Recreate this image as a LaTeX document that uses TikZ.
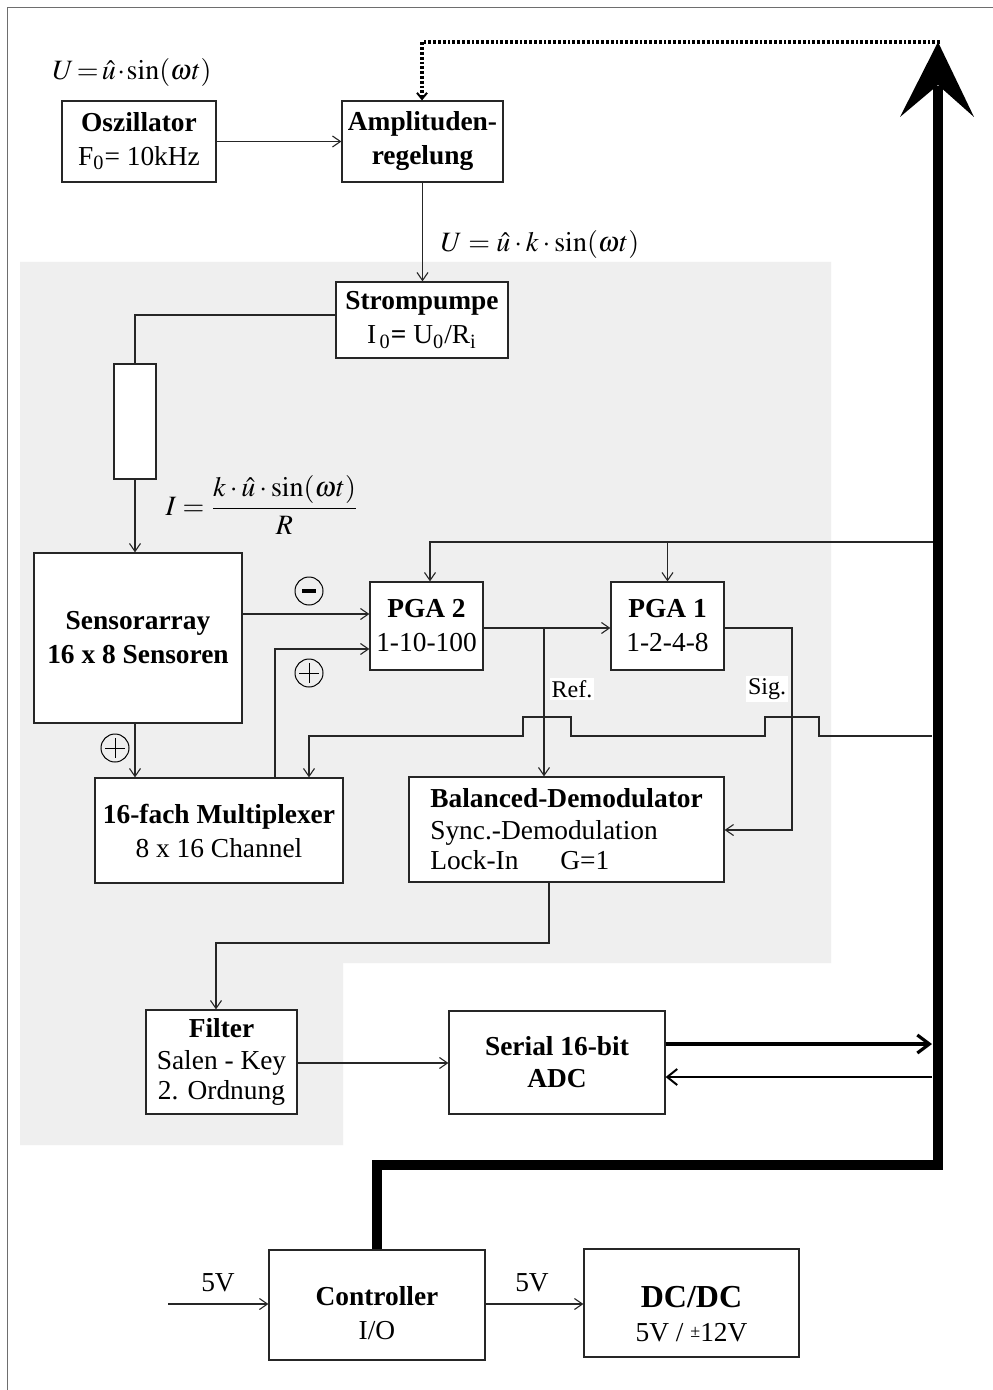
\documentclass[tikz,border=0pt]{standalone}
\usepackage{mathptmx}
\usepackage[no-math]{fontspec}
\setmainfont{Liberation Serif}
\usetikzlibrary{arrows.meta,calc}
\definecolor{bggray}{RGB}{239,239,239}
\definecolor{framegray}{RGB}{110,110,110}
\tikzset{
  box/.style={draw=black!85, line width=0.6pt, fill=white, inner sep=0pt, align=center,
              font=\fontsize{13.7}{17}\selectfont},
  txt/.style={inner sep=0pt, align=center, font=\fontsize{13.7}{17}\selectfont},
  wire/.style={line width=0.55pt, draw=black!85},
  arr/.style={wire,->},
  sgn/.style={circle, draw, line width=0.5pt, minimum size=14pt, inner sep=0pt},
  tag/.style={fill=white, inner sep=1pt, font=\fontsize{12}{12}\selectfont},
  fml/.style={inner sep=0pt, font=\fontsize{14}{16}\selectfont},
  dotline/.style={line width=1.6pt, dash pattern=on 1.4pt off 1pt}
}
\begin{document}
\begin{tikzpicture}[x=0.5pt,y=-0.5pt,
  >={Straight Barb[length=4pt,width=5.5pt]}]

\useasboundingbox (0,0) rectangle (992,1390);
\fill[white] (0,0) rectangle (992,1390);
% grey region
\fill[bggray] (20,262) -- (831,262) -- (831,963) -- (343,963) -- (343,1145) -- (20,1145) -- cycle;
% frame
\draw[framegray, line width=0.75pt] (7.5,1400) -- (7.5,7.5) -- (1000,7.5);

% boxes
\node[box,minimum width=77pt,minimum height=40.5pt] (osc) at (139,141.5) {\textbf{Oszillator}\\F\textsubscript{0}= 10kHz};
\node[box,minimum width=80.5pt,minimum height=40.5pt] (amp) at (422.5,141.5) {\textbf{Amplituden-}\\\textbf{regelung}};
\node[box,minimum width=86pt,minimum height=38pt] (strom) at (422,320) {\textbf{Strompumpe}\\I\textsubscript{\,0}\textbf{=} U\textsubscript{0}/R\textsubscript{i}};
\node[box,minimum width=21pt,minimum height=57.5pt] (res) at (135,421.5) {};
\node[box,minimum width=104pt,minimum height=85pt] (sensor) at (138,638) {\textbf{Sensorarray}\\\textbf{16 x 8 Sensoren}};
\node[box,minimum width=56.5pt,minimum height=44pt] (pga2) at (426.5,626) {\textbf{PGA 2}\\1-10-100};
\node[box,minimum width=56.5pt,minimum height=44pt] (pga1) at (667.5,626) {\textbf{PGA 1}\\1-2-4-8};
\node[box,minimum width=124pt,minimum height=52.5pt] (mux) at (219,830.5) {\textbf{16-fach Multiplexer}\\8 x 16 Channel};
\node[box,minimum width=157.5pt,minimum height=52.5pt,align=left] (bal) at (566.5,829.5) {\textbf{Balanced-Demodulator}\\[-1pt]Sync.-Demodulation\\[-2pt]\makebox[65pt][l]{Lock-In}G=1};
\node[box,minimum width=75.5pt,minimum height=52pt] (filter) at (221.5,1062) {\textbf{Filter}\\[-1pt]Salen - Key\\[-2pt]2. Ordnung};
\node[box,minimum width=108pt,minimum height=51.5pt] (adc) at (557,1062.5) {\textbf{Serial 16-bit}\\[-1pt]\textbf{ADC}};
\node[box,minimum width=108pt,minimum height=55pt] (ctrl) at (377,1305) {};
\node[txt] (ctrlT) at (377,1313) {\textbf{Controller}\\I/O};
\node[box,minimum width=107.5pt,minimum height=54pt] (dcdc) at (691.5,1303) {};
\node[txt] (dcdcT) at (691.5,1314) {{\fontsize{16}{17}\selectfont\textbf{DC/DC}}\\5V / \raisebox{0.35ex}{\fontsize{9}{9}\selectfont ±}12V};

% formulas
\node[fml] (f1) at (132,73) {$\thickmuskip=2mu\medmuskip=1mu U=\hat{u}\cdot\sin(\omega t)$};
\node[fml] (f2) at (540,245) {$U=\hat{u}\cdot k\cdot\sin(\omega t)$};
\node[fml] (f3) at (262,505) {$I=\displaystyle\frac{k\cdot\hat{u}\cdot\sin(\omega t)}{R}$};

% sign circles
\node[sgn] (m1) at (309,591) {};
\draw[line width=2pt] ($(m1)+(-7,0)$) -- ($(m1)+(7,0)$);
\node[sgn] (p1) at (309,673) {};
\draw[line width=0.5pt] ($(p1)+(-10,0)$) -- ($(p1)+(10,0)$) ($(p1)+(0,-10)$) -- ($(p1)+(0,10)$);
\node[sgn] (p2) at (115,748) {};
\draw[line width=0.5pt] ($(p2)+(-10,0)$) -- ($(p2)+(10,0)$) ($(p2)+(0,-10)$) -- ($(p2)+(0,10)$);

% coordinates for free ends
\coordinate (dotS) at (940,42);
\coordinate (busA) at (935,542);
\coordinate (busB) at (932,736);
\coordinate (busC) at (932,1044);
\coordinate (busD) at (932,1077);
\coordinate (in5) at (168,1304);
\coordinate (refsplit) at (544,628);
\coordinate (sigc) at (792,628);

% connectors
\draw[arr] (osc.east) -- (amp.west);
\draw[arr] (amp.south) -- (amp.south |- strom.north);
\draw[wire] (strom.west |- 0,315) -| (res.north);
\draw[arr] (res.south) -- (res.south |- sensor.north);
\draw[arr] (sensor.east |- 0,614) -- (pga2.west |- 0,614);
\draw[arr] (mux.north -| 275,0) |- (pga2.west |- 0,649);
\draw[arr] (sensor.south -| 135,0) -- (mux.north -| 135,0);
\draw[arr] (busA) -| (pga2.north -| 430,0);
\draw[arr] (pga1.north |- busA) -- (pga1.north);
\draw[arr] (pga2.east |- 0,628) -- (pga1.west |- 0,628);
\draw[arr] (refsplit) -- (bal.north -| refsplit);
\draw[arr] (pga1.east |- 0,628) -- (sigc) |- (bal.east |- 0,830);
\draw[arr] (busB) -- (819,736) -- (819,717) -- (765,717) -- (765,736) -- (571,736) -- (571,717) -- (523,717) -- (523,736) -| (mux.north -| 309,0);
\draw[arr] (bal.south -| 549,0) -- (549,943) -| (filter.north -| 216,0);
\draw[arr] (filter.east |- 0,1063) -- (adc.west |- 0,1063);
\draw[line width=1.6pt, -{Straight Barb[length=6pt,width=9pt]}] (adc.east |- busC) -- (busC);
\draw[line width=1pt, -{Straight Barb[length=5pt,width=8pt]}] (busD) -- (adc.east |- busD);
\draw[dotline, -{Straight Barb[length=3pt,width=5pt,line width=1pt]}] (dotS) -- (422,42) -- (amp.north -| 422,0);
\draw[arr] (in5) -- (ctrl.west |- in5);
\draw[arr] (ctrl.east |- 0,1304) -- (dcdc.west |- 0,1304);

% thick bus with arrow head
\draw[line width=5pt, line join=miter] (ctrl.north) -- (ctrl.north |- 0,1165) -- (938,1165) -- (938,86);
\fill (938,42) -- (974,117) -- (938,85) -- (900,117) -- cycle;

% labels
\node[tag] (ref) at (572,689) {Ref.};
\node[tag] (sig) at (767,689) {Sig.};
\node[txt] (l5a) at (218,1283) {5V};
\node[txt] (l5b) at (532,1283) {5V};
\end{tikzpicture}
\end{document}
